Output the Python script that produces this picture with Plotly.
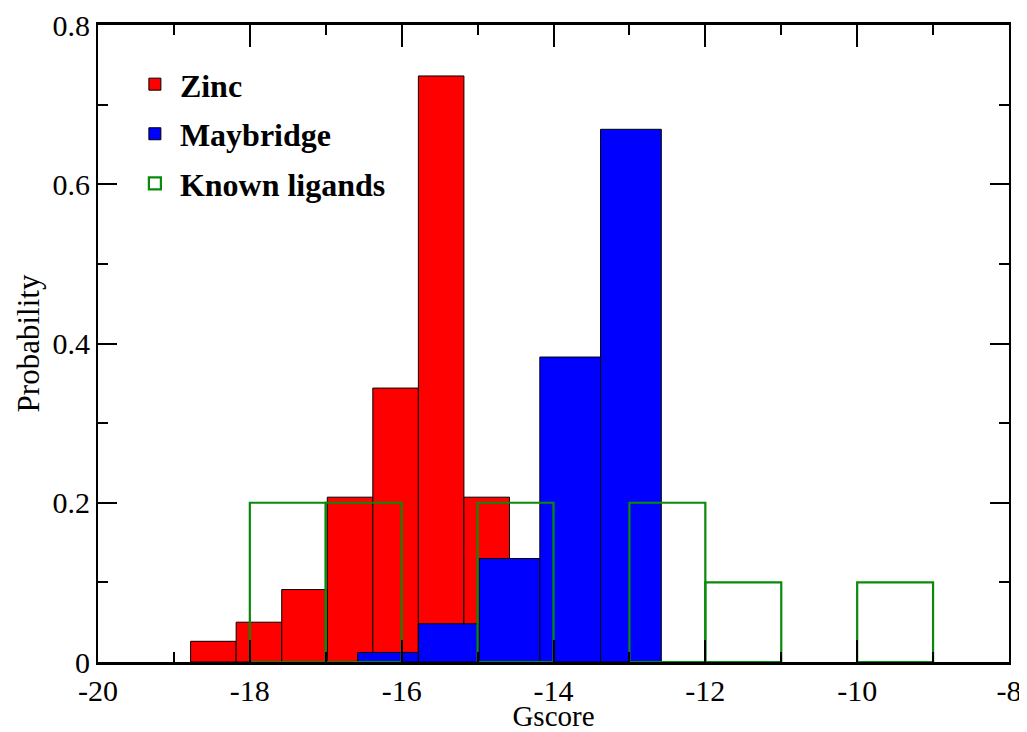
import plotly.graph_objects as go

# Data
zinc_x = [-18.48, -17.88, -17.28, -16.68, -16.08, -15.48, -14.88]
zinc_y = [0.026, 0.050, 0.091, 0.207, 0.344, 0.736, 0.207]
zinc_width = 0.6

mayb_x = [-16.18, -15.38, -14.58, -13.78, -12.98]
mayb_y = [0.012, 0.048, 0.130, 0.383, 0.669]
mayb_width = 0.8

known_x = [-17.5, -16.5, -15.5, -14.5, -13.5, -12.5, -11.5, -10.5, -9.5]
known_y = [0.2, 0.2, 0.0, 0.2, 0.0, 0.2, 0.1, 0.0, 0.1]
known_width = 1.0

x_ticks = [-20, -18, -16, -14, -12, -10, -8]
x_ticktext = ["-20", "-18", "-16", "-14", "-12", "-10", "-8"]
y_ticks = [0, 0.2, 0.4, 0.6, 0.8]
y_ticktext = ["0", "0.2", "0.4", "0.6", "0.8"]

FONT = "Liberation Serif"

# empty bins are not drawn (no outline along the axis)
known_y_plot = [v if v > 0 else None for v in known_y]

fig = go.Figure()
fig.add_trace(go.Bar(x=zinc_x, y=zinc_y, width=zinc_width, name="Zinc",
                     legendgroup="a",
                     marker=dict(color="#ff0000", line=dict(color="black", width=1))))
fig.add_trace(go.Bar(x=mayb_x, y=mayb_y, width=mayb_width, name="Maybridge",
                     legendgroup="b",
                     marker=dict(color="#0000ff", line=dict(color="black", width=1))))
fig.add_trace(go.Bar(x=known_x, y=known_y_plot, width=known_width, name="Known ligands",
                     legendgroup="c",
                     marker=dict(color="rgba(0,0,0,0)", line=dict(color="#0a8a0a", width=2.2))))

fig.update_layout(
    width=1019, height=724,
    barmode="overlay",
    plot_bgcolor="white", paper_bgcolor="white",
    margin=dict(l=90, r=18, t=17, b=70, pad=0, autoexpand=False),
    font=dict(family=FONT, size=30, color="black"),
    legend=dict(x=0.035, y=0.95, xanchor="left", yanchor="top",
                bgcolor="rgba(0,0,0,0)", traceorder="grouped", tracegroupgap=5,
                font=dict(family=FONT, size=32, color="black", weight="bold"),
                itemwidth=40),
    xaxis=dict(range=[-20, -8], tickvals=x_ticks, ticktext=x_ticktext,
               ticks="inside", ticklen=22, tickwidth=2, tickcolor="black",
               showline=True, linewidth=2.5, linecolor="black", mirror="allticks",
               showgrid=False, zeroline=False, automargin=False,
               ticklabeloverflow="allow",
               minor=dict(dtick=1, ticks="inside", ticklen=10, tickwidth=2, tickcolor="black"),
               title=dict(text="Gscore", font=dict(family=FONT, size=29), standoff=5),
               tickfont=dict(family=FONT, size=30)),
    yaxis=dict(range=[0, 0.8], tickvals=y_ticks, ticktext=y_ticktext,
               ticks="inside", ticklen=19, tickwidth=2, tickcolor="black",
               showline=True, linewidth=2, linecolor="black", mirror="allticks",
               showgrid=False, zeroline=False, automargin=False,
               minor=dict(dtick=0.1, ticks="inside", ticklen=10, tickwidth=2, tickcolor="black"),
               title=dict(text="Probability", font=dict(family=FONT, size=31), standoff=4),
               tickfont=dict(family=FONT, size=30)),
    showlegend=True,
)

fig.write_html("out.html")
